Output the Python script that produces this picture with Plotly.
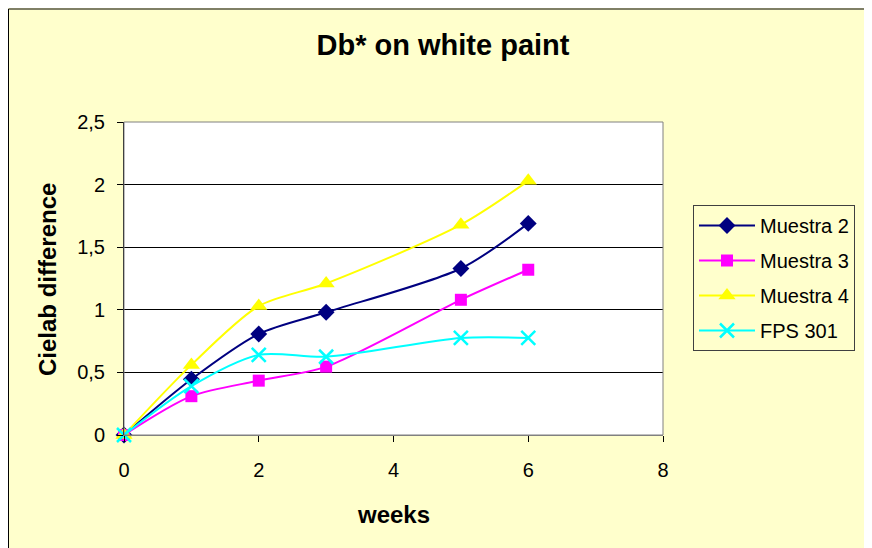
import plotly.graph_objects as go

weeks = [0, 1, 2, 3, 5, 6]
muestra2 = [0, 0.445, 0.807, 0.98, 1.33, 1.69]
muestra3 = [0, 0.31, 0.434, 0.546, 1.08, 1.32]
muestra4 = [0, 0.56, 1.03, 1.21, 1.68, 2.03]
fps301 = [0, 0.39, 0.64, 0.625, 0.775, 0.775]

series_names = ["Muestra 2", "Muestra 3", "Muestra 4", "FPS 301"]
series_values = [muestra2, muestra3, muestra4, fps301]
colors = ["#000080", "#FF00FF", "#FFFF00", "#00FFFF"]
symbols = ["diamond", "square", "triangle-up", "x-thin"]
sizes = [13, 12, 15, 14]

W, H = 872, 548
OFF = 8  # page body margin
L, R, T, B = 124 - OFF, 663 - OFF, 122 - OFF, 435 - OFF
pw, ph = R - L, B - T

FONT = "Liberation Sans, Arial, sans-serif"

fig = go.Figure()
for name, vals, c, s, sz in zip(series_names, series_values, colors, symbols, sizes):
    marker = dict(symbol=s, size=sz, color=c)
    if s == "x-thin":
        marker["line"] = dict(color=c, width=2.5)
    fig.add_trace(go.Scatter(
        x=weeks, y=vals, name=name, mode="lines+markers",
        line=dict(color=c, width=2, shape="spline", smoothing=0.8),
        marker=marker, cliponaxis=False, legendgroup=name,
    ))

def px_x(x):
    return (x - OFF - L) / pw

def px_y(y):
    return (B - (y - OFF)) / ph

fig.update_layout(
    width=W, height=H,
    margin=dict(l=L, r=W - R, t=T, b=H - B, pad=0),
    paper_bgcolor="#FFFFCC",
    plot_bgcolor="#FFFFFF",
    separators=", ",
    font=dict(family=FONT, size=20, color="#000000"),
    title=dict(text="<b>Db* on white paint</b>", xref="container", yref="container",
               x=(443 - OFF) / W, y=1 - (45 - OFF) / H, xanchor="center", yanchor="middle",
               font=dict(size=29, family=FONT)),
    xaxis=dict(range=[0, 8], dtick=2, tick0=0, showgrid=False, zeroline=False,
               showline=True, linecolor="#808080", linewidth=1,
               ticks="outside", ticklen=6, tickcolor="#000000",
               ticklabelstandoff=11),
    yaxis=dict(range=[0, 2.5], dtick=0.5, tick0=0, showgrid=True, gridcolor="#000000",
               gridwidth=1, zeroline=False, showline=True, linecolor="#000000", linewidth=1,
               ticks="outside", ticklen=6, tickcolor="#000000",
               ticklabelstandoff=8),
    legend=dict(x=px_x(693), y=px_y(205), xanchor="left", yanchor="top",
                bgcolor="#FFFFCC", bordercolor="#404040", borderwidth=1,
                font=dict(size=20, family=FONT), traceorder="grouped",
                tracegroupgap=6, itemwidth=56),
    showlegend=True,
)

# axis titles
fig.add_annotation(text="<b>weeks</b>", xref="paper", yref="paper",
                   x=0.5, y=px_y(514), xanchor="center", yanchor="middle",
                   showarrow=False, font=dict(size=24, family=FONT))
fig.add_annotation(text="<b>Cielab difference</b>", xref="paper", yref="paper",
                   x=px_x(47), y=px_y(280), xanchor="center", yanchor="middle",
                   textangle=-90, showarrow=False, font=dict(size=24, family=FONT))

# plot area border (top/right)
fig.add_shape(type="rect", xref="paper", yref="paper", x0=0, x1=1, y0=0, y1=1,
              line=dict(color="#808080", width=1), layer="above")
# outer chart border (left/top visible)
fig.add_shape(type="line", xref="paper", yref="paper", x0=px_x(8.5), x1=px_x(8.5),
              y0=px_y(600), y1=px_y(9), line=dict(color="#000000", width=1))
fig.add_shape(type="line", xref="paper", yref="paper", x0=px_x(8.5), x1=px_x(900),
              y0=px_y(9), y1=px_y(9), line=dict(color="#000000", width=1))

fig.write_html("out.html", post_script="document.body.style.overflow='hidden';")
